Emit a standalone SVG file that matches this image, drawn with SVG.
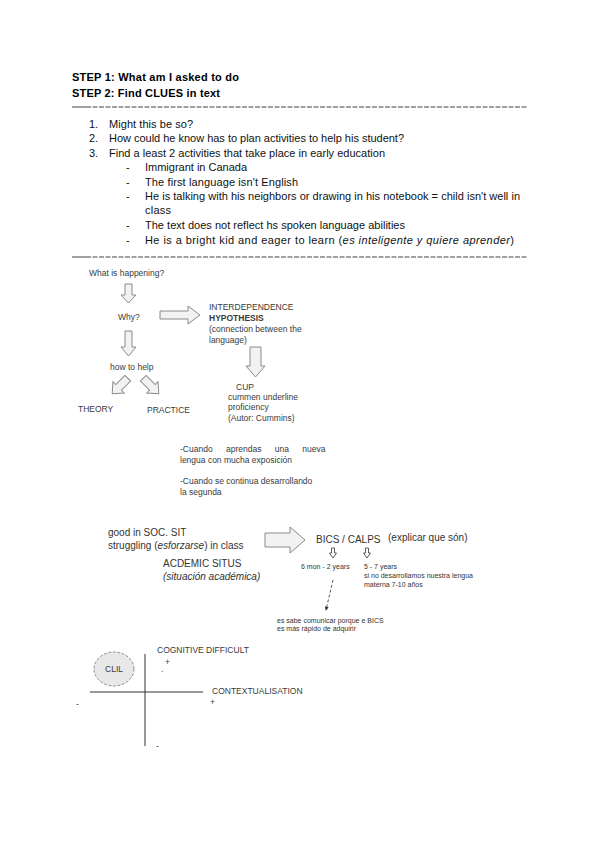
<svg xmlns="http://www.w3.org/2000/svg" width="600" height="848" viewBox="0 0 600 848">
<defs>
<style>
.b{font-family:"Liberation Sans",Arial,sans-serif;font-size:11px;font-weight:bold;fill:#000}
.t{font-family:"Liberation Sans",Arial,sans-serif;font-size:11px;fill:#111}
.s{font-family:"Liberation Sans",Arial,sans-serif;font-size:8.5px;fill:#3a3a3a}
.m{font-family:"Liberation Sans",Arial,sans-serif;font-size:10px;fill:#333}
.x{font-family:"Liberation Sans",Arial,sans-serif;font-size:7px;fill:#333}
.blk{fill:#f2f2f2;stroke:#8a8a8a;stroke-width:1}
.sep{stroke:#444;stroke-width:1;stroke-dasharray:5 1.5}
.ax{stroke:#333;stroke-width:1}
</style>
<marker id="ah" viewBox="0 0 6 6" refX="5" refY="3" markerWidth="5" markerHeight="5" orient="auto">
<path d="M0,0 L6,3 L0,6 Z" fill="#333"/>
</marker>
</defs>
<rect width="600" height="848" fill="#fff"/>

<g id="header">
<text class="b" x="72" y="81" textLength="167">STEP 1: What am I asked to do</text>
<text class="b" x="72" y="97" textLength="148">STEP 2: Find CLUES in text</text>
<line x1="72" y1="107" x2="86" y2="107" stroke="#444"/>
<line class="sep" x1="86" y1="107" x2="527" y2="107"/>
</g>

<g id="list">
<text class="t" x="89" y="128">1.</text>
<text class="t" x="109" y="128" textLength="84">Might this be so?</text>
<text class="t" x="89" y="142">2.</text>
<text class="t" x="109" y="142" textLength="295">How could he know has to plan activities to help his student?</text>
<text class="t" x="89" y="157">3.</text>
<text class="t" x="109" y="157" textLength="276">Find a least 2 activities that take place in early education</text>
<text class="t" x="126" y="171">-</text>
<text class="t" x="145" y="171" textLength="102">Immigrant in Canada</text>
<text class="t" x="126" y="186">-</text>
<text class="t" x="145" y="186" textLength="153">The first language isn't English</text>
<text class="t" x="126" y="200">-</text>
<text class="t" x="145" y="200" textLength="375">He is talking with his neighbors or drawing in his notebook = child isn't well in</text>
<text class="t" x="145" y="214" textLength="26">class</text>
<text class="t" x="126" y="229">-</text>
<text class="t" x="145" y="229" textLength="260">The text does not reflect hs spoken language abilities</text>
<text class="t" x="126" y="244">-</text>
<text class="t" x="145" y="244" textLength="369">He is a bright kid and eager to learn (<tspan font-style="italic">es inteligente y quiere aprender</tspan>)</text>
<line x1="72" y1="257" x2="86" y2="257" stroke="#444"/>
<line class="sep" x1="86" y1="257" x2="527" y2="257"/>
</g>

<g id="connectors">
<path class="blk" d="M125,284 H132 V295 H136 L128.5,303 L121,295 H125 Z"/>
<path class="blk" d="M160,311 H188 V306 L200,315 L188,324 V319 H160 Z"/>
<path class="blk" d="M125,331 H132 V347 H136 L128.5,356 L121,347 H125 Z"/>
<path class="blk" transform="translate(120,386) rotate(45)" d="M-4,-11 H4 V2 H8 L0,11 L-8,2 H-4 Z"/>
<path class="blk" transform="translate(151,386) rotate(-45)" d="M-4,-11 H4 V2 H8 L0,11 L-8,2 H-4 Z"/>
<path class="blk" d="M250,347 H261 V366 H265 L255.5,377 L246,366 H250 Z"/>
<path class="blk" d="M265,533 H290 V527 L305,540 L290,553 V547 H265 Z"/>
<path d="M331.5,548 H334.5 V553 H336.5 L333,558 L329.5,553 H331.5 Z" fill="none" stroke="#333" stroke-width="0.8"/>
<path d="M365.5,548 H368.5 V553 H370.5 L367,558 L363.5,553 H365.5 Z" fill="none" stroke="#333" stroke-width="0.8"/>
<line x1="333" y1="580" x2="326" y2="610" stroke="#333" stroke-width="0.8" stroke-dasharray="3 2" marker-end="url(#ah)"/>
</g>

<g id="n-what"><text class="s" x="89" y="276">What is happening?</text></g>
<g id="n-why"><text class="s" x="118" y="320">Why?</text></g>
<g id="n-interdep">
<text class="s" x="209" y="310">INTERDEPENDENCE</text>
<text class="s" x="209" y="321" font-weight="bold">HYPOTHESIS</text>
<text class="s" x="209" y="332">(connection between the</text>
<text class="s" x="209" y="343">language)</text>
</g>
<g id="n-how"><text class="s" x="110" y="370">how to help</text></g>
<g id="n-theory"><text class="s" x="78" y="412">THEORY</text></g>
<g id="n-practice"><text class="s" x="147" y="413">PRACTICE</text></g>
<g id="n-cup">
<text class="s" x="236" y="390">CUP</text>
<text class="s" x="228" y="400">cummen underline</text>
<text class="s" x="228" y="410">proficiency</text>
<text class="s" x="228" y="421">(Autor: Cummins)</text>
</g>
<g id="n-cuando">
<text class="s" x="180" y="452" word-spacing="11">-Cuando aprendas una nueva</text>
<text class="s" x="180" y="463">lengua con mucha exposición</text>
<text class="s" x="180" y="484">-Cuando se continua desarrollando</text>
<text class="s" x="180" y="495">la segunda</text>
</g>
<g id="n-good">
<text class="m" x="108" y="536">good in SOC. SIT</text>
<text class="m" x="108" y="549">struggling (<tspan font-style="italic">esforzarse</tspan>) in class</text>
</g>
<g id="n-academic">
<text class="m" x="163" y="567">ACDEMIC SITUS</text>
<text class="m" x="163" y="580" font-style="italic">(situación académica)</text>
</g>
<g id="n-bics">
<text class="m" x="316" y="543">BICS / CALPS</text>
<text class="m" x="388" y="541">(explicar que són)</text>
</g>
<g id="n-6mon"><text class="x" x="301" y="569">6 mon - 2 years</text></g>
<g id="n-5-7">
<text class="x" x="364" y="569">5 - 7 years</text>
<text class="x" x="364" y="578">si no desarrollamos nuestra lengua</text>
<text class="x" x="364" y="587">materna 7-10 años</text>
</g>
<g id="n-sabe">
<text class="x" x="277" y="623">es sabe comunicar porque e BICS</text>
<text class="x" x="277" y="631">es más rápido de adquirir</text>
</g>

<g id="n-graph">
<ellipse cx="114" cy="669" rx="20" ry="17" fill="#e8e8e8" stroke="#777" stroke-width="0.8" stroke-dasharray="3 1.5"/>
<text class="s" x="114" y="672" text-anchor="middle">CLIL</text>
<line class="ax" x1="145" y1="654" x2="145" y2="746"/>
<line class="ax" x1="90" y1="692" x2="203" y2="692"/>
<text class="s" x="157" y="653">COGNITIVE DIFFICULT</text>
<text class="s" x="165" y="665">+</text>
<text class="s" x="161" y="672">.</text>
<text class="s" x="212" y="694">CONTEXTUALISATION</text>
<text class="s" x="210" y="705">+</text>
<text class="s" x="76" y="707">-</text>
<text class="s" x="156" y="749">-</text>
</g>
</svg>
